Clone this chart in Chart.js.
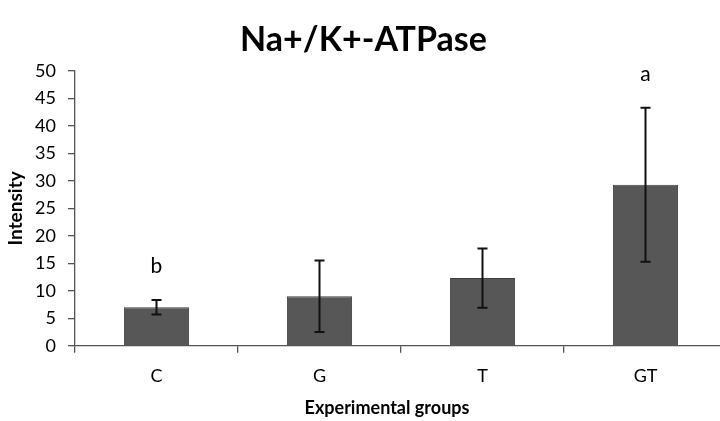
<!DOCTYPE html>
<html><head><meta charset="utf-8">
<script src="https://cdn.jsdelivr.net/npm/chart.js@4"></script>
<style>
html,body{margin:0;padding:0;background:#fff;overflow:hidden}
#wrap{width:720px;height:421px;overflow:hidden;position:relative}
</style></head><body>
<div id="wrap"><canvas id="c" width="740" height="421"></canvas></div>
<script>
const chartTitle = 'Na+/K+-ATPase';
const xAxisTitle = 'Experimental groups';
const yAxisTitle = 'Intensity';
const categories = ['C', 'G', 'T', 'GT'];
const meanValues = [7.0, 9.0, 12.3, 29.3];
const errorValues = [1.3, 6.5, 5.4, 14.0];
const groupLetters = ['b', '', '', 'a'];
const yTickValues = [0, 5, 10, 15, 20, 25, 30, 35, 40, 45, 50];

const FONT = 'Lato, "DejaVu Sans", sans-serif';

const errorBarPlugin = {
  id: 'errorBars',
  afterDatasetsDraw(chart) {
    const ctx = chart.ctx;
    const y = chart.scales.y;
    const meta = chart.getDatasetMeta(0);
    ctx.save();
    ctx.strokeStyle = '#111';
    ctx.lineWidth = 2;
    meta.data.forEach((bar, i) => {
      const top = y.getPixelForValue(meanValues[i] + errorValues[i]);
      const bot = y.getPixelForValue(meanValues[i] - errorValues[i]);
      const x = bar.x;
      ctx.beginPath();
      ctx.moveTo(x, top); ctx.lineTo(x, bot);
      ctx.moveTo(x - 5, top); ctx.lineTo(x + 5, top);
      ctx.moveTo(x - 5, bot); ctx.lineTo(x + 5, bot);
      ctx.stroke();
      if (groupLetters[i]) {
        ctx.fillStyle = '#000';
        ctx.font = '21px ' + FONT;
        ctx.textAlign = 'center';
        ctx.textBaseline = 'middle';
        ctx.fillText(groupLetters[i], x, top - 34);
      }
    });
    // x-axis title (offset slightly left of the plot centre, as in the original)
    const ca = chart.chartArea;
    ctx.fillStyle = '#000';
    ctx.font = 'bold 18px ' + FONT;
    ctx.textAlign = 'center';
    ctx.textBaseline = 'middle';
    ctx.fillText(xAxisTitle, (ca.left + ca.right) / 2 - 14, 408);
    ctx.restore();
  }
};

new Chart(document.getElementById('c'), {
  type: 'bar',
  data: {
    labels: categories,
    datasets: [{
      data: meanValues,
      backgroundColor: '#575757',
      borderColor: '#404040',
      borderWidth: 1,
      barPercentage: 0.4,
      categoryPercentage: 1.0
    }]
  },
  options: {
    responsive: false,
    devicePixelRatio: 1,
    animation: false,
    layout: { padding: { left: 0, right: 13, top: 0, bottom: 0 } },
    plugins: {
      legend: { display: false },
      tooltip: { enabled: false },
      title: {
        display: true,
        text: chartTitle,
        color: '#000',
        font: { family: FONT, size: 34, weight: 'bold', lineHeight: 1.2 },
        padding: { top: 20, bottom: 10.2 }
      }
    },
    scales: {
      x: {
        grid: { offset: true, drawOnChartArea: false, drawTicks: true, tickLength: 7, color: '#555', lineWidth: 1.3 },
        border: { display: true, color: '#555', width: 1.3 },
        ticks: { color: '#000', font: { family: FONT, size: 18 }, padding: 13 },
        title: { display: false },
        afterFit(s) { s.height = 75.3; }
      },
      y: {
        min: 0, max: 50,
        afterBuildTicks(s) { s.ticks = yTickValues.map(v => ({ value: v })); },
        grid: { drawOnChartArea: false, drawTicks: true, tickLength: 7, color: '#555', lineWidth: 1.3 },
        border: { display: true, color: '#555', width: 1.3 },
        ticks: { color: '#000', font: { family: FONT, size: 18 }, padding: 12 },
        title: { display: true, text: yAxisTitle, color: '#000', font: { family: FONT, size: 19, weight: 'bold', lineHeight: 1.2 }, padding: { top: 4, bottom: 0 } },
        afterFit(s) { s.width = 75; }
      }
    }
  },
  plugins: [errorBarPlugin]
});
</script>
</body></html>
